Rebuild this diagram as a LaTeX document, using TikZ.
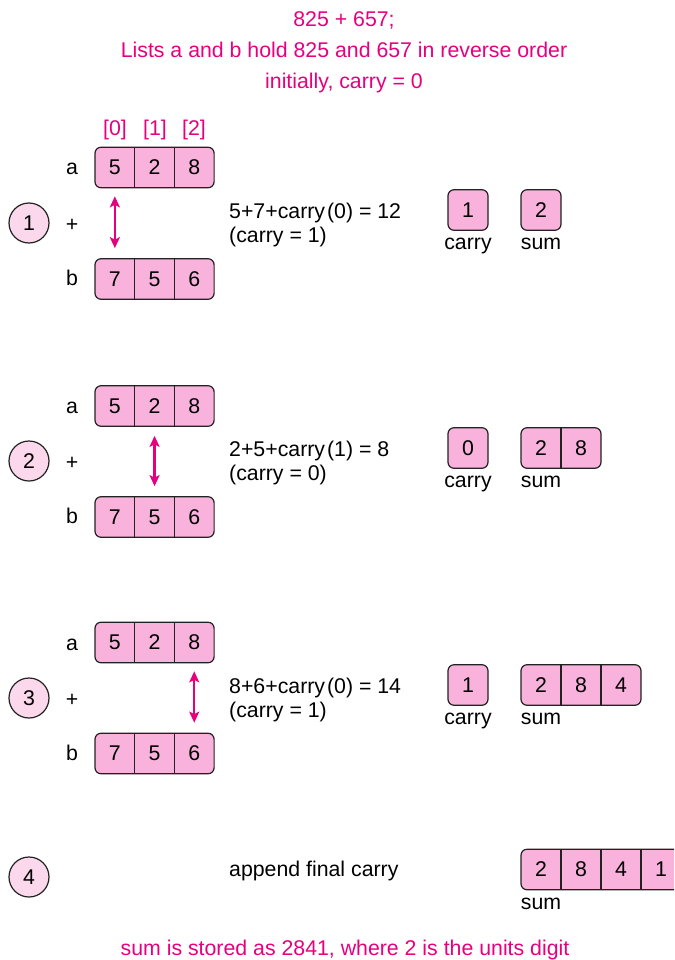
\documentclass[tikz,border=0pt]{standalone}
\usepackage{fontspec}
\setmainfont{Liberation Sans}
\usetikzlibrary{arrows.meta}
\definecolor{mag}{RGB}{230,0,126}
\definecolor{boxpink}{RGB}{248,178,220}
\definecolor{circpink}{RGB}{251,216,236}
\definecolor{edge}{RGB}{34,34,34}
\tikzset{
  txt/.style={font=\fontsize{21.3}{25}\selectfont, inner sep=0pt, text=black},
  mtxt/.style={txt, text=mag},
  cellbox/.style={draw=edge, line width=1.2pt, fill=boxpink, rounded corners=6pt,
    minimum height=40.5pt, inner sep=0pt},
  stepcirc/.style={circle, draw=edge, line width=1.2pt, fill=circpink,
    minimum size=40pt, inner sep=0pt, font=\fontsize{21.3}{25}\selectfont},
  dblarrow/.style={draw=mag, line width=2.4pt,
    {Stealth[length=11pt,width=10pt,inset=2.5pt]}-{Stealth[length=11pt,width=10pt,inset=2.5pt]}},
  divider/.style={draw=edge, line width=1.2pt}
}
% #1 name, #2 left x, #3 centre y, #4 number of cells, #5 cell width, #6 digits
\newcommand\cellrow[6]{%
  \node[cellbox, minimum width={#4*#5pt}] (#1) at ({#2+#4*#5/2},#3) {};
  \ifnum#4>1
    \foreach \k in {2,...,#4} {\draw[divider] ({#2+(\k-1)*#5},{#3-20.25}) -- ({#2+(\k-1)*#5},{#3+20.25});}
  \fi
  \foreach \d [count=\i] in {#6} {\node[txt] (#1-\i) at ({#2+#5*\i-#5/2},#3) {\d};}
}
\begin{document}
\begin{tikzpicture}[x=1pt,y=-1pt]
\useasboundingbox (0,0) rectangle (674,960);
\clip (0,0) rectangle (674,960);

% titles
\node[mtxt, anchor=base] (t1) at (344,27) {825 + 657;};
\node[mtxt, anchor=base] (t2) at (344,58) {Lists a and b hold 825 and 657 in reverse order};
\node[mtxt, anchor=base] (t3) at (344,89) {initially, carry = 0};

% indices
\node[mtxt, anchor=base] (i0) at (115,136) {[0]};
\node[mtxt, anchor=base] (i1) at (155,136) {[1]};
\node[mtxt, anchor=base] (i2) at (194,136) {[2]};

% ---------- step 1 ----------
\node[stepcirc] (c1) at (29,223) {1};
\node[txt, anchor=base] (p1) at (72,231) {+};
\node[txt, anchor=base] (la1) at (72,175) {a};
\node[txt, anchor=base] (lb1) at (72,285) {b};
\cellrow{a1}{95}{167.5}{3}{39.7}{5,2,8}
\cellrow{b1}{95}{279}{3}{39.7}{7,5,6}
\draw[dblarrow, shorten <=8pt, shorten >=10pt] (a1-1 |- a1.south) -- (b1-1 |- b1.north);
\node[txt, anchor=base west] (f1a) at (229,218.5) {5+7+carry\kern2pt(0) = 12};
\node[txt, anchor=base west] (f1b) at (229,242.5) {(carry = 1)};
\cellrow{k1}{448}{210}{1}{40}{1}
\cellrow{s1}{521}{210}{1}{40}{2}
\node[txt, anchor=base] (lk1) at (468,249) {carry};
\node[txt, anchor=base] (ls1) at (541,249) {sum};

% ---------- step 2 ----------
\node[stepcirc] (c2) at (29,461) {2};
\node[txt, anchor=base] (p2) at (72,469) {+};
\node[txt, anchor=base] (la2) at (72,413.5) {a};
\node[txt, anchor=base] (lb2) at (72,523.5) {b};
\cellrow{a2}{95}{406}{3}{39.7}{5,2,8}
\cellrow{b2}{95}{517}{3}{39.7}{7,5,6}
\draw[dblarrow, shorten <=9pt, shorten >=10pt] (a2-2 |- a2.south) -- (b2-2 |- b2.north);
\node[txt, anchor=base west] (f2a) at (229,456.5) {2+5+carry\kern2pt(1) = 8};
\node[txt, anchor=base west] (f2b) at (229,480.5) {(carry = 0)};
\cellrow{k2}{448}{448}{1}{40}{0}
\cellrow{s2}{521}{448}{2}{40}{2,8}
\node[txt, anchor=base] (lk2) at (468,487) {carry};
\node[txt, anchor=base] (ls2) at (541,487) {sum};

% ---------- step 3 ----------
\node[stepcirc] (c3) at (29,698) {3};
\node[txt, anchor=base] (p3) at (72,706) {+};
\node[txt, anchor=base] (la3) at (72,650) {a};
\node[txt, anchor=base] (lb3) at (72,760) {b};
\cellrow{a3}{95}{642.5}{3}{39.7}{5,2,8}
\cellrow{b3}{95}{753.5}{3}{39.7}{7,5,6}
\draw[dblarrow, shorten <=8pt, shorten >=10pt] (a3-3 |- a3.south) -- (b3-3 |- b3.north);
\node[txt, anchor=base west] (f3a) at (229,693.5) {8+6+carry\kern2pt(0) = 14};
\node[txt, anchor=base west] (f3b) at (229,717.5) {(carry = 1)};
\cellrow{k3}{448}{685}{1}{40}{1}
\cellrow{s3}{521}{685}{3}{40}{2,8,4}
\node[txt, anchor=base] (lk3) at (468,724) {carry};
\node[txt, anchor=base] (ls3) at (541,724) {sum};

% ---------- step 4 ----------
\node[stepcirc] (c4) at (29,877) {4};
\node[txt, anchor=base west] (f4) at (229,876) {append final carry};
\cellrow{s4}{521}{869.5}{4}{40}{2,8,4,1}
\node[txt, anchor=base] (ls4) at (541,909) {sum};

% footer
\node[mtxt, anchor=base] (ft) at (345,955) {sum is stored as 2841, where 2 is the units digit};
\end{tikzpicture}
\end{document}
